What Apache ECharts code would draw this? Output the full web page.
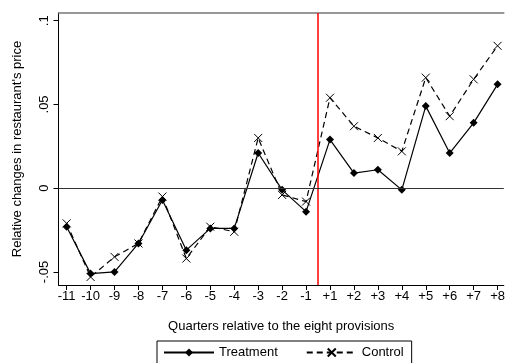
<!DOCTYPE html>
<html>
<head>
<meta charset="utf-8">
<script src="https://cdn.jsdelivr.net/npm/echarts@6/dist/echarts.min.js"></script>
<style>
  html, body { margin: 0; padding: 0; background: #fff; }
  #chart { width: 508px; height: 363px; }
</style>
</head>
<body>
<div id="chart"></div>
<script>
// quarters relative to the eight provisions (no 0 quarter)
const quarterLabels = ['-11', '-10', '-9', '-8', '-7', '-6', '-5', '-4', '-3', '-2', '-1',
  '+1', '+2', '+3', '+4', '+5', '+6', '+7', '+8'];
const treatment = [-0.023, -0.051, -0.050, -0.033, -0.007, -0.037, -0.024, -0.024, 0.021, -0.001, -0.014,
  0.029, 0.009, 0.011, -0.001, 0.049, 0.021, 0.039, 0.062];
const control = [-0.021, -0.053, -0.041, -0.033, -0.005, -0.042, -0.023, -0.026, 0.030, -0.004, -0.008,
  0.054, 0.037, 0.030, 0.022, 0.066, 0.043, 0.065, 0.085];
const yTicks = [-0.05, 0, 0.05, 0.1];
const yTickLabels = ['-.05', '0', '.05', '.1'];

const idx = quarterLabels.map((_, i) => i);
const font = 'Liberation Sans, Arial, sans-serif';

const chart = echarts.init(document.getElementById('chart'));
chart.setOption({
  animation: false,
  textStyle: { fontFamily: font, color: '#000' },
  grid: { left: 58.5, top: 13, right: 0, bottom: 78, containLabel: false },
  xAxis: [{
    type: 'value',
    min: -0.34,
    max: 18.26,
    name: 'Quarters relative to the eight provisions',
    nameLocation: 'middle',
    nameGap: 35,
    nameTextStyle: { fontSize: 13, color: '#000', fontFamily: font },
    axisLine: { onZero: false, lineStyle: { color: '#000', width: 1 } },
    axisTick: { show: true, inside: false, length: 5, customValues: idx, lineStyle: { color: '#000' } },
    axisLabel: {
      customValues: idx,
      formatter: v => quarterLabels[Math.round(v)],
      fontSize: 13, color: '#000', margin: 5, fontFamily: font
    },
    splitLine: { show: false }
  }, {
    type: 'value',
    position: 'top',
    min: -0.34,
    max: 18.26,
    axisLine: { show: true, onZero: false, lineStyle: { color: '#777', width: 1.5 } },
    axisTick: { show: false },
    axisLabel: { show: false },
    splitLine: { show: false }
  }],
  yAxis: {
    type: 'value',
    min: -0.0578,
    max: 0.1046,
    name: "Relative changes in restaurant's price",
    nameLocation: 'middle',
    nameGap: 35,
    nameTextStyle: { fontSize: 13, color: '#000', fontFamily: font },
    axisLine: { show: true, onZero: false, lineStyle: { color: '#000', width: 1 } },
    axisTick: { show: true, length: 5, customValues: yTicks, lineStyle: { color: '#000' } },
    axisLabel: {
      customValues: yTicks,
      rotate: 90,
      formatter: v => yTickLabels[yTicks.findIndex(t => Math.abs(t - v) < 1e-9)],
      fontSize: 13, color: '#000', margin: 8, fontFamily: font
    },
    splitLine: { show: false }
  },
  legend: {
    bottom: -10,
    left: 157,
    itemWidth: 50,
    itemHeight: 10,
    itemGap: 28,
    padding: [5, 8, 14, 6],
    borderColor: '#000',
    borderWidth: 1,
    textStyle: { fontSize: 13, color: '#000', fontFamily: font },
    data: ['Treatment', 'Control']
  },
  series: [{
    name: 'Treatment',
    type: 'line',
    data: treatment.map((v, i) => [i, v]),
    symbol: 'diamond',
    symbolSize: 8,
    itemStyle: { color: '#000' },
    lineStyle: { color: '#000', width: 1.2 },
    z: 3,
    markLine: {
      silent: true,
      symbol: 'none',
      label: { show: false },
      data: [
        { xAxis: 10.5, lineStyle: { color: '#ff0000', width: 1.5, type: 'solid' } },
        { yAxis: 0, lineStyle: { color: '#333', width: 1, type: 'solid' } }
      ]
    }
  }, {
    name: 'Control',
    type: 'line',
    data: control.map((v, i) => [i, v]),
    symbol: 'path://M0,0L10,10M10,0L0,10',
    symbolSize: 8,
    itemStyle: { color: 'none', borderColor: '#000', borderWidth: 1 },
    lineStyle: { color: '#000', width: 1.2, type: [6, 4] },
    z: 2
  }]
});
</script>
</body>
</html>
